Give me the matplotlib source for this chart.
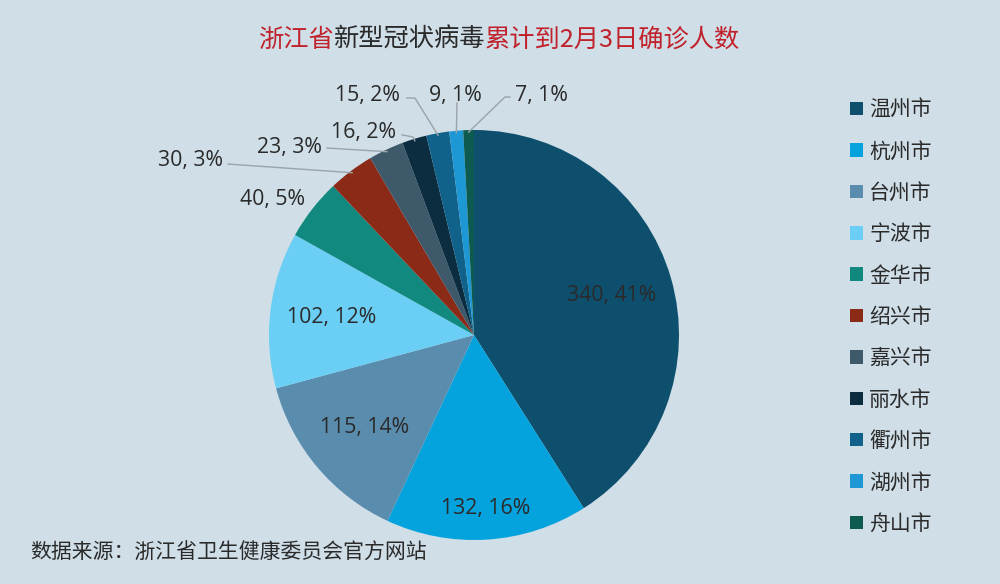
import matplotlib.pyplot as plt
from matplotlib.patches import Patch
import numpy as np

# dados: casos confirmados acumulados até 3 de fevereiro
cidades = ['温州市', '杭州市', '台州市', '宁波市', '金华市', '绍兴市',
           '嘉兴市', '丽水市', '衢州市', '湖州市', '舟山市']
casos = [340, 132, 115, 102, 40, 30, 23, 16, 15, 9, 7]
# percentuais como aparecem no gráfico original
percentuais = [41, 16, 14, 12, 5, 3, 3, 2, 2, 1, 1]

cores = ['#0E4F6E', '#05A3DD', '#5A8DAD', '#6BCFF5', '#12897F', '#8C2A18',
         '#3E5A6A', '#0C2D40', '#11628A', '#1D98D4', '#0D5A50']

FUNDO = '#CFDEE7'
TEXTO = '#2A2A2A'
VERMELHO = '#C1212B'
LINHA = '#9AA3A8'
CJK = ['Noto Sans CJK SC', 'DejaVu Sans']
NUM = ['Open Sans', 'Noto Sans CJK SC']

# posição dos rótulos (raio do rótulo interno, ou posição externa + linha guia)
rotulos_internos = {0: 0.70, 1: 0.85, 2: 0.70, 3: 0.70}
rotulos_externos = {
    4: dict(xy=(-0.985, 0.659), linha=None),
    5: dict(xy=(-1.385, 0.849), linha=[(-1.20, 0.834)]),
    6: dict(xy=(-0.90, 0.917), linha=[(-0.717, 0.912)]),
    7: dict(xy=(-0.537, 0.99), linha=[(-0.351, 0.976), (-0.298, 0.966)]),
    8: dict(xy=(-0.52, 1.166), linha=[(-0.327, 1.156), (-0.288, 1.156)]),
    9: dict(xy=(-0.093, 1.166), linha=[(-0.083, 1.132)]),
    10: dict(xy=(0.327, 1.166), linha=[(0.176, 1.161), (0.151, 1.161)]),
}

W, H, R = 1000, 584, 205
CX, CY = 474, 335

fig = plt.figure(figsize=(W / 100, H / 100), dpi=100)
fig.patch.set_facecolor(FUNDO)
ax = fig.add_axes([0, 0, 1, 1])
ax.set_facecolor(FUNDO)

wedges, _ = ax.pie(casos, colors=cores, startangle=90, counterclock=False,
                   radius=1, wedgeprops=dict(linewidth=0))
ax.set_xlim(-CX / R, (W - CX) / R)
ax.set_ylim(-(H - CY) / R, CY / R)
ax.set_aspect('equal')
ax.axis('off')

for i, (w, v, p) in enumerate(zip(wedges, casos, percentuais)):
    ang = np.deg2rad((w.theta1 + w.theta2) / 2)
    txt = f'{v}, {p}%'
    if i in rotulos_internos:
        r = rotulos_internos[i]
        ax.text(r * np.cos(ang), r * np.sin(ang), txt, ha='center', va='center',
                fontsize=15.3, color=TEXTO, family=NUM)
    else:
        info = rotulos_externos[i]
        ax.text(*info['xy'], txt, ha='center', va='center',
                fontsize=15.3, color=TEXTO, family=NUM)
        if info['linha']:
            pts = info['linha'] + [(np.cos(ang) * 0.99, np.sin(ang) * 0.99)]
            xs, ys = zip(*pts)
            ax.plot(xs, ys, color=LINHA, lw=1, clip_on=False)

# título com partes em vermelho
partes = [('浙江省', VERMELHO), ('新型冠状病毒', TEXTO), ('累计到2月3日确诊人数', VERMELHO)]
renderer = fig.canvas.get_renderer()
objs = []
for s, c in partes:
    t = fig.text(0, 1 - 40 / H, s, color=c, fontsize=18.2, family=CJK,
                 ha='left', va='center')
    objs.append(t)
larguras = [t.get_window_extent(renderer).width for t in objs]
x = (499 - sum(larguras) / 2) / W
for t, lw in zip(objs, larguras):
    t.set_x(x)
    x += lw / W

fig.text(30 / W, 1 - 553 / H, '数据来源：浙江省卫生健康委员会官方网站',
         fontsize=15, color=TEXTO, family=CJK, ha='left', va='center')

handles = [Patch(facecolor=c, edgecolor='none') for c in cores]
leg = fig.legend(handles, cidades, loc='upper left',
                 bbox_to_anchor=(850 / W, 1 - 99 / H), frameon=False,
                 prop=dict(family=CJK, size=15), labelcolor=TEXTO,
                 handlelength=0.62, handleheight=0.62, handletextpad=0.3,
                 labelspacing=0.93, borderpad=0, borderaxespad=0)

fig.savefig('out.png', dpi=100, facecolor=FUNDO)
